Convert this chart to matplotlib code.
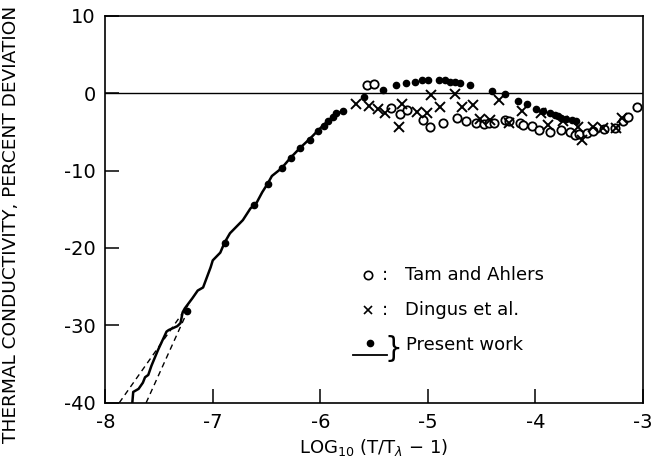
import matplotlib
matplotlib.use("Agg")

import matplotlib.pyplot as plt

# Present work: continuous curve
line_x = [-7.75, -7.74, -7.69, -7.65, -7.63, -7.60, -7.57, -7.51, -7.43, -7.41,
          -7.33, -7.30, -7.28, -7.26, -7.19, -7.14, -7.09, -7.02, -7.00, -6.93,
          -6.89, -6.84, -6.72, -6.65, -6.59, -6.54, -6.49, -6.45, -6.36, -6.28,
          -6.19, -6.09, -6.02, -5.93, -5.86, -5.79]
line_y = [-40.3, -38.6, -38.2, -37.4, -36.7, -36.4, -35.2, -33.2, -30.8, -30.6,
          -30.1, -29.7, -28.3, -27.8, -26.5, -25.5, -25.1, -22.5, -21.6, -20.6,
          -19.3, -18.1, -16.4, -14.9, -14.1, -12.8, -11.7, -10.7, -9.7, -8.4,
          -7.1, -5.8, -4.8, -3.6, -2.8, -2.3]

# Present work: points
dots_x = [-7.24, -6.89, -6.62, -6.49, -6.36, -6.27, -6.19, -6.10, -6.02, -5.97,
          -5.93, -5.88, -5.85, -5.79, -5.59, -5.42, -5.30, -5.20, -5.12, -5.05,
          -5.00, -4.90, -4.84, -4.79, -4.75, -4.70, -4.61, -4.40, -4.28, -4.16,
          -4.08, -3.99, -3.93, -3.86, -3.82, -3.79, -3.76, -3.71, -3.66, -3.62]
dots_y = [-28.2, -19.3, -14.5, -11.7, -9.7, -8.4, -7.1, -6.0, -4.9, -4.3,
          -3.6, -3.1, -2.6, -2.3, -0.5, 0.45, 1.0, 1.3, 1.4, 1.65,
          1.65, 1.75, 1.65, 1.5, 1.45, 1.35, 1.0, 0.25, -0.1, -1.05,
          -1.4, -2.1, -2.35, -2.6, -2.8, -3.0, -3.2, -3.35, -3.45, -3.55]

# Tam and Ahlers
tam_x = [-5.57, -5.50, -5.34, -5.26, -5.19, -5.04, -4.98, -4.86, -4.73, -4.64,
         -4.55, -4.48, -4.43, -4.38, -4.28, -4.24, -4.14, -4.11, -4.03, -3.97,
         -3.86, -3.76, -3.68, -3.63, -3.59, -3.52, -3.46, -3.36, -3.26, -3.18,
         -3.14, -3.05]
tam_y = [1.0, 1.2, -1.9, -2.75, -2.2, -3.5, -4.4, -3.9, -3.15, -3.55,
         -3.9, -3.95, -3.9, -3.9, -3.45, -3.6, -3.85, -4.15, -4.3, -4.75,
         -5.05, -4.8, -5.05, -5.45, -5.25, -5.2, -4.95, -4.65, -4.45, -3.55,
         -3.05, -1.8]

# Dingus et al.
dingus_x = [-5.67, -5.55, -5.46, -5.40, -5.24, -5.27, -5.10, -5.01, -4.97, -4.89,
            -4.75, -4.68, -4.58, -4.51, -4.42, -4.34, -4.24, -4.12, -3.95, -3.88,
            -3.74, -3.60, -3.57, -3.46, -3.37, -3.25, -3.19]
dingus_y = [-1.4, -1.65, -2.05, -2.6, -1.4, -4.35, -2.45, -2.5, -0.2, -1.75,
            -0.1, -1.85, -1.5, -3.4, -3.45, -0.9, -3.9, -2.25, -2.6, -4.1,
            -3.55, -4.35, -6.0, -4.4, -4.45, -4.5, -3.2]

# dashed limiting lines
upper_x = [-7.87, -7.23]
upper_y = [-40.0, -27.4]
lower_x = [-7.62, -7.21]
lower_y = [-40.0, -27.4]

x_ticks = [-8, -7, -6, -5, -4, -3]
y_ticks = [10, 0, -10, -20, -30, -40]

plt.rcParams["axes.unicode_minus"] = False
plt.rcParams["font.family"] = "DejaVu Sans"

fig = plt.figure(figsize=(6.62, 4.63), dpi=100)
ax = fig.add_axes([0.159, 0.13, 0.812, 0.836])

ax.axhline(0, color="black", lw=1.0, zorder=1)
ax.plot(upper_x, upper_y, color="black", lw=1.0, ls=(0, (4, 3)))
ax.plot(lower_x, lower_y, color="black", lw=1.0, ls=(0, (4, 3)))
ax.plot(line_x, line_y, color="black", lw=1.8, solid_joinstyle="round")
ax.plot(dots_x, dots_y, "o", color="black", ms=4.5, ls="none")
ax.plot(tam_x, tam_y, "o", mfc="white", mec="black", mew=1.3, ms=6, ls="none")
ax.plot(dingus_x, dingus_y, "x", color="black", mew=1.4, ms=7, ls="none")

ax.set_xlim(-8, -3)
ax.set_ylim(-40, 10)
ax.set_xticks(x_ticks)
ax.set_yticks(y_ticks)
ax.tick_params(direction="in", length=10, width=1.1, labelsize=14, pad=7)
for s in ax.spines.values():
    s.set_linewidth(1.2)

ax.set_xlabel(r"LOG$_{10}$ (T/T$_{\lambda}$ $-$ 1)", fontsize=13, labelpad=4)
ax.set_ylabel("THERMAL CONDUCTIVITY, PERCENT DEVIATION", fontsize=13.3)
ax.yaxis.set_label_coords(-0.158, 0.46)

# legend drawn by hand
ax.plot([0.489], [0.331], "o", mfc="white", mec="black", mew=1.2, ms=6, transform=ax.transAxes)
ax.text(0.520, 0.331, ":", fontsize=13, ha="center", va="center", transform=ax.transAxes)
ax.text(0.558, 0.331, "Tam and Ahlers", fontsize=13, va="center", transform=ax.transAxes)
ax.plot([0.489], [0.240], "x", color="black", mew=1.2, ms=6, transform=ax.transAxes)
ax.text(0.520, 0.240, ":", fontsize=13, ha="center", va="center", transform=ax.transAxes)
ax.text(0.558, 0.240, "Dingus et al.", fontsize=13, va="center", transform=ax.transAxes)
ax.plot([0.493], [0.155], "o", color="black", ms=4.5, transform=ax.transAxes)
ax.plot([0.461, 0.524], [0.124, 0.124], color="black", lw=1.3, transform=ax.transAxes)
ax.text(0.536, 0.140, "}", fontsize=20, ha="center", va="center", transform=ax.transAxes)
ax.text(0.560, 0.150, "Present work", fontsize=13, va="center", transform=ax.transAxes)

fig.savefig("out.png", dpi=100)
plt.close(fig)
